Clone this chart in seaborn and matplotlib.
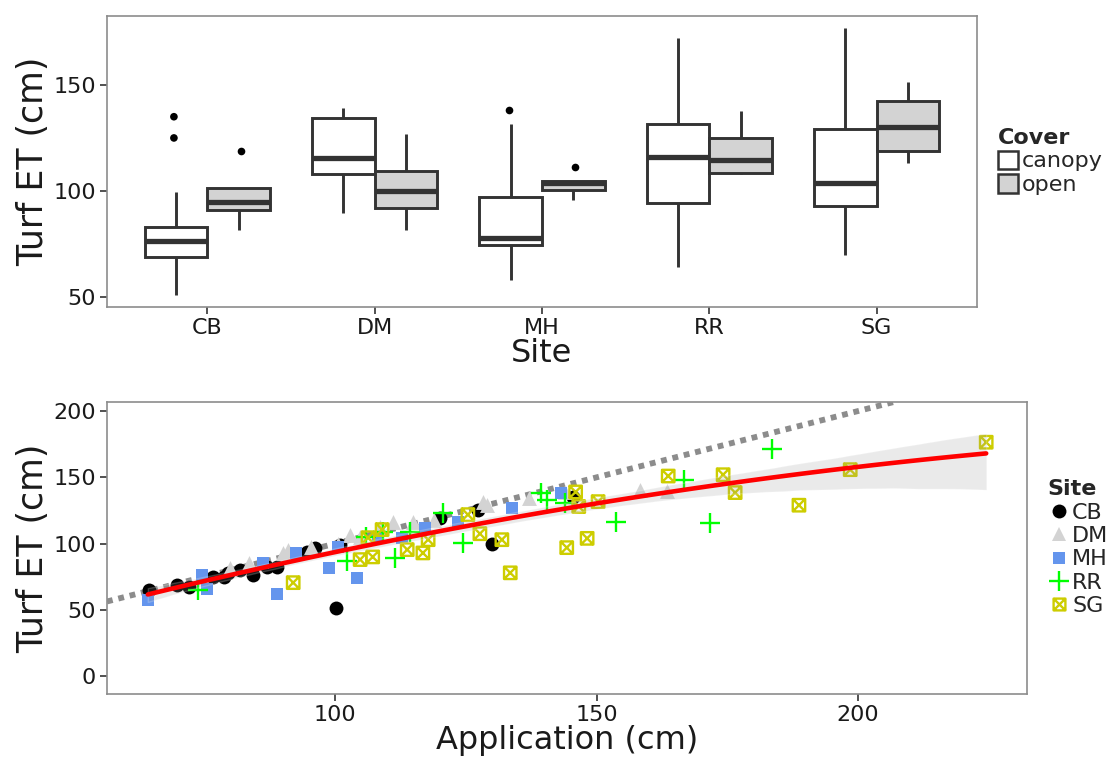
import numpy as np
import pandas as pd
import matplotlib
matplotlib.use("Agg")
import matplotlib.pyplot as plt
from matplotlib.path import Path
from matplotlib.patches import Patch
from matplotlib.lines import Line2D
import seaborn as sns

# ---------------- Turf ET by site and cover (box summaries) ----------------
sites = ["CB", "DM", "MH", "RR", "SG"]
covers = ["canopy", "open"]
box_site = ["CB", "CB", "DM", "DM", "MH", "MH", "RR", "RR", "SG", "SG"]
box_cover = ["canopy", "open"] * 5
box_low = [51.0, 81.6, 89.6, 81.6, 58.0, 95.8, 64.0, 108.0, 70.0, 113.0]
box_q1 = [69.0, 91.0, 108.0, 92.0, 74.5, 100.5, 94.3, 108.5, 93.0, 119.0]
box_med = [76.5, 95.0, 115.5, 100.0, 78.0, 103.8, 116.0, 114.6, 103.8, 130.0]
box_q3 = [83.0, 101.5, 134.5, 109.5, 97.0, 104.7, 131.6, 125.0, 129.0, 142.5]
box_high = [99.5, 101.5, 139.0, 127.0, 131.5, 104.7, 172.0, 137.7, 177.0, 151.4]

flier_site = ["CB", "CB", "CB", "MH", "MH"]
flier_cover = ["canopy", "canopy", "open", "canopy", "open"]
flier_val = [125.0, 135.0, 119.0, 138.0, 111.3]

# ---------------- Application vs Turf ET by site ----------------
cb_x = [64.4, 69.8, 72.0, 76.7, 78.8, 79.5, 81.8, 84.3, 87.0, 88.9, 94.6, 96.2,
        101.0, 100.2, 120.0, 127.3, 130.0, 145.5]
cb_y = [65.3, 69.0, 67.0, 75.0, 75.0, 77.5, 80.4, 76.6, 82.6, 82.6, 94.0, 97.0,
        99.0, 51.7, 119.6, 125.7, 100.0, 135.5]
dm_x = [80.0, 83.5, 90.0, 91.0, 95.5, 100.5, 102.9, 104.8, 108.6, 111.0, 115.0,
        119.0, 128.3, 129.0, 137.0, 144.0, 158.3, 163.5]
dm_y = [81.6, 85.7, 93.0, 95.5, 97.5, 100.0, 106.8, 105.0, 112.8, 116.6, 116.6,
        118.0, 131.7, 129.4, 134.5, 139.0, 140.5, 139.5]
mh_x = [64.2, 74.6, 75.5, 86.2, 88.9, 92.5, 98.9, 100.6, 104.2, 108.3, 112.8,
        117.2, 123.5, 133.8, 143.2]
mh_y = [57.7, 76.6, 66.0, 85.7, 62.3, 93.2, 81.9, 97.7, 74.3, 104.5, 104.5,
        112.0, 116.6, 127.0, 138.5]
rr_x = [73.8, 102.3, 106.0, 109.2, 111.5, 114.3, 120.6, 124.5, 139.4, 140.6,
        144.0, 153.7, 166.8, 171.6, 183.6]
rr_y = [65.3, 87.0, 105.3, 109.0, 89.4, 109.0, 123.4, 100.8, 138.0, 133.0,
        131.0, 116.0, 148.0, 115.8, 171.3]
sg_x = [92.0, 104.8, 106.3, 107.2, 109.0, 113.8, 116.8, 117.8, 125.4, 127.7,
        131.9, 133.5, 144.3, 146.0, 146.6, 148.2, 150.3, 163.7, 174.2, 176.5,
        188.7, 198.5, 224.5]
sg_y = [70.6, 88.0, 104.5, 90.0, 110.6, 95.5, 93.0, 103.0, 121.9, 107.5,
        103.0, 78.0, 97.0, 139.0, 128.0, 104.0, 131.7, 151.0, 152.0, 138.5,
        129.0, 155.8, 176.5]

# ---------------- tables ----------------
box_df = pd.DataFrame({"Site": box_site, "Cover": box_cover,
                       "low": box_low, "q1": box_q1, "med": box_med,
                       "q3": box_q3, "high": box_high})
box_long = box_df.melt(id_vars=["Site", "Cover"], value_name="TurfET")
flier_df = pd.DataFrame({"Site": flier_site, "Cover": flier_cover,
                         "TurfET": flier_val})

pts = pd.concat([
    pd.DataFrame({"Site": s, "Application": x, "TurfET": y})
    for s, x, y in [("CB", cb_x, cb_y), ("DM", dm_x, dm_y), ("MH", mh_x, mh_y),
                    ("RR", rr_x, rr_y), ("SG", sg_x, sg_y)]
], ignore_index=True)

# ---------------- style ----------------
sns.set_theme(style="white")
plt.rcParams["font.family"] = ["DejaVu Sans"]
TXT = "#1a1a1a"
SPINE = "#8c8c8c"

fig = plt.figure(figsize=(11.18, 7.61), dpi=100)
ax1 = fig.add_axes([0.0957, 0.5966, 0.7782, 0.3824])
ax2 = fig.add_axes([0.0957, 0.0880, 0.8229, 0.3837])

# ---------------- top: boxplot ----------------
sns.boxplot(data=box_long, x="Site", y="TurfET", hue="Cover",
            order=sites, hue_order=covers,
            palette={"canopy": "white", "open": "#D3D3D3"},
            whis=(0, 100), width=0.75, gap=0, linecolor="#333333",
            linewidth=2.1, showcaps=False, showfliers=False,
            medianprops=dict(linewidth=3.8), legend=False, ax=ax1)
sns.stripplot(data=flier_df, x="Site", y="TurfET", hue="Cover",
              order=sites, hue_order=covers, dodge=True, jitter=False,
              palette={"canopy": "black", "open": "black"}, size=5.5,
              linewidth=0, legend=False, ax=ax1)
ax1.set_xlim(-0.6, 4.6)
ax1.set_ylim(45.3, 182.5)
ax1.set_yticks([50, 100, 150])
ax1.set_xlabel("Site", fontsize=23, color=TXT, labelpad=0)
ax1.set_ylabel("Turf ET (cm)", fontsize=25, color=TXT, labelpad=2)

cover_handles = [Patch(facecolor="white", edgecolor="#333333", lw=1.8),
                 Patch(facecolor="#D3D3D3", edgecolor="#333333", lw=1.8)]
leg1 = ax1.legend(cover_handles, covers, title="Cover", loc="upper left",
                  bbox_to_anchor=(0.893, 0.832), bbox_transform=fig.transFigure,
                  frameon=False, fontsize=16, title_fontsize=16,
                  handlelength=0.9, handleheight=0.9, handletextpad=0.15,
                  labelspacing=0.12, borderaxespad=0, borderpad=0)
leg1.get_title().set_fontweight("bold")
leg1._legend_box.align = "left"

# ---------------- bottom: scatter with fit ----------------
ax2.axline((0, 0), slope=1, color="#8c8c8c", lw=4.2, ls=(0, (1, 1)), zorder=1)

boxx = Path([(-1, -1), (1, -1), (1, 1), (-1, 1), (-1, -1),
             (-1, -1), (1, 1), (-1, 1), (1, -1)],
            [Path.MOVETO, Path.LINETO, Path.LINETO, Path.LINETO, Path.CLOSEPOLY,
             Path.MOVETO, Path.LINETO, Path.MOVETO, Path.LINETO])

site_colors = {"CB": "black", "DM": "#D3D3D3", "MH": "#6495ED",
               "RR": "#00FF00", "SG": "#CDCD00"}

sns.scatterplot(data=pts[pts.Site == "CB"], x="Application", y="TurfET",
                marker="o", color=site_colors["CB"], s=100, linewidth=0,
                zorder=2, ax=ax2, legend=False)
sns.scatterplot(data=pts[pts.Site == "DM"], x="Application", y="TurfET",
                marker="^", color=site_colors["DM"], s=115, linewidth=0,
                zorder=2, ax=ax2, legend=False)
sns.scatterplot(data=pts[pts.Site == "MH"], x="Application", y="TurfET",
                marker="s", color=site_colors["MH"], s=85, linewidth=0,
                zorder=2, ax=ax2, legend=False)
sns.scatterplot(data=pts[pts.Site == "RR"], x="Application", y="TurfET",
                marker="+", color=site_colors["RR"], s=210, linewidth=1.7,
                zorder=2, ax=ax2, legend=False)
sns.scatterplot(data=pts[pts.Site == "SG"], x="Application", y="TurfET",
                marker=boxx, facecolor="none", edgecolor=site_colors["SG"],
                s=80, linewidth=1.7, zorder=2, ax=ax2, legend=False)

n_before = len(ax2.collections)
sns.regplot(data=pts, x="Application", y="TurfET", order=2, scatter=False,
            ci=95, seed=3, color="red", line_kws=dict(lw=3.3, zorder=4),
            ax=ax2)
for coll in ax2.collections[n_before:]:
    coll.set_facecolor("#999999")
    coll.set_alpha(0.2)
    coll.set_zorder(3)

ax2.set_xlim(56.4, 232.3)
ax2.set_ylim(-13.4, 206.8)
ax2.set_xticks([100, 150, 200])
ax2.set_yticks([0, 50, 100, 150, 200])
ax2.set_xlabel("Application (cm)", fontsize=23, color=TXT, labelpad=0)
ax2.set_ylabel("Turf ET (cm)", fontsize=25, color=TXT, labelpad=2)

site_handles = [
    Line2D([], [], ls="", marker="o", color="black", ms=10, mew=0),
    Line2D([], [], ls="", marker="^", color="#D3D3D3", ms=10.5, mew=0),
    Line2D([], [], ls="", marker="s", color="#6495ED", ms=9, mew=0),
    Line2D([], [], ls="", marker="+", color="#00FF00", ms=14, mew=1.7),
    Line2D([], [], ls="", marker=boxx, mfc="none", mec="#CDCD00", ms=8.5, mew=1.7),
]
leg2 = ax2.legend(site_handles, sites, title="Site", loc="upper left",
                  bbox_to_anchor=(0.937, 0.370), bbox_transform=fig.transFigure,
                  frameon=False, fontsize=16, title_fontsize=16,
                  handlelength=1.0, handletextpad=0.1, labelspacing=0.15,
                  borderaxespad=0, borderpad=0)
leg2.get_title().set_fontweight("bold")
leg2._legend_box.align = "left"

for ax in (ax1, ax2):
    for sp in ax.spines.values():
        sp.set_color(SPINE)
        sp.set_linewidth(1.2)
    ax.tick_params(axis="both", which="major", direction="out", length=5,
                   width=1.2, color="#333333", labelsize=16, labelcolor=TXT,
                   bottom=True, left=True, pad=3)
    ax.grid(False)

fig.savefig("out.png", dpi=100)
